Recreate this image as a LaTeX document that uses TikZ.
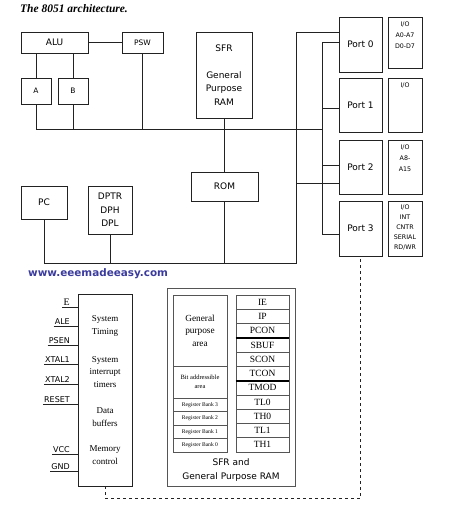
\documentclass[tikz,border=0pt]{standalone}
\usepackage{fontspec}
\setmainfont{Liberation Serif}
\setsansfont{DejaVu Sans}
\usepackage{xcolor}
\usetikzlibrary{positioning,calc}
\definecolor{wire}{HTML}{222222}
\definecolor{ramgray}{HTML}{555555}
\definecolor{webblue}{HTML}{3B3B9E}

\tikzset{
  blk/.style={draw=wire,line width=0.9pt,inner sep=0pt,align=center,
              font=\sffamily\fontsize{9}{13.3}\selectfont},
  smallblk/.style={blk,font=\sffamily\fontsize{7.5}{9}\selectfont},
  iobox/.style={draw=wire,line width=0.9pt,inner sep=0pt,minimum width=34pt},
  iotext/.style={anchor=north,inner sep=0pt,align=center,
                 font=\sffamily\fontsize{6.3}{10.8}\selectfont},
  pinlbl/.style={anchor=south east,inner sep=1pt,
                 font=\sffamily\fontsize{8}{9}\selectfont},
  chiptext/.style={align=center,inner sep=0pt,font=\fontsize{9}{12.3}\selectfont},
  rambox/.style={draw=ramgray,line width=0.6pt,inner sep=0pt,align=center},
  wires/.style={draw=wire,line width=0.9pt}
}

\begin{document}
\begin{tikzpicture}[x=1pt,y=-1pt]
\useasboundingbox (0,0) rectangle (474,505);

\node[anchor=west,inner sep=0pt,font=\bfseries\itshape\fontsize{11.5}{12}\selectfont]
      (title) at (20,9) {The 8051 architecture.};

% upper part: ALU, registers, memory
\node[blk,minimum width=67pt,minimum height=21pt] (alu) at (54.5,42.5) {ALU};
\node[smallblk,minimum width=41pt,minimum height=21pt] (psw) at (142.5,42.5) {PSW};
\node[smallblk,minimum width=30pt,minimum height=26pt] (a) at (36,91) {A};
\node[smallblk,minimum width=30pt,minimum height=26pt] (b) at (73,91) {B};
\node[blk,minimum width=56pt,minimum height=86pt] (sfr) at (224,75)
      {SFR\\[13.7pt]General\\Purpose\\RAM};
\node[blk,minimum width=67pt,minimum height=29pt] (rom) at (224.5,186.5) {ROM};
\node[blk,minimum width=46pt,minimum height=33pt] (pc) at (44,202.5) {PC};
\node[blk,minimum width=44pt,minimum height=48pt] (dptr) at (110,210) {DPTR\\DPH\\DPL};

% ports and their pins
\node[blk,minimum width=43pt,minimum height=55pt] (port0) at (360.5,44.5) {Port 0};
\node[blk,minimum width=43pt,minimum height=54pt] (port1) at (360.5,105) {Port 1};
\node[blk,minimum width=43pt,minimum height=54pt] (port2) at (360.5,167) {Port 2};
\node[blk,minimum width=43pt,minimum height=55pt] (port3) at (360.5,228.5) {Port 3};

\node[iobox,minimum height=51pt] (io0) at (405,42.5) {};
\node[iobox,minimum height=54pt] (io1) at (405,105) {};
\node[iobox,minimum height=54pt] (io2) at (405,167) {};
\node[iobox,minimum height=55pt] (io3) at (405,228.5) {};
\node[iotext] (io0txt) at ([yshift=-5pt]io0.north) {I/O\\A0-A7\\D0-D7};
\node[iotext] (io1txt) at ([yshift=-5pt]io1.north) {I/O};
\node[iotext] (io2txt) at ([yshift=-5pt]io2.north) {I/O\\A8-\\A15};
\node[iotext,font=\sffamily\fontsize{6.3}{9.8}\selectfont] (io3txt)
      at ([yshift=-4.5pt]io3.north) {I/O\\INT\\CNTR\\SERIAL\\RD/WR};

% buses
\coordinate (busR) at (322,129);
\coordinate (trkTop) at (322,42);
\coordinate (trkP1) at (322,108);
\coordinate (trkP2) at (322,165);
\coordinate (trkBot) at (322,234);
\coordinate (outTop) at (296,32);
\coordinate (outP2) at (296,183);
\coordinate (outBot) at (296,263);

\draw[wires] (alu.east) -- (psw.west);
\draw[wires] (alu.south -| a.north) -- (a.north);
\draw[wires] (alu.south -| b.north) -- (b.north);
\draw[wires] (a.south) |- (busR);
\draw[wires] (b.south) -- (b.south |- busR);
\draw[wires] (psw.south) -- (psw.south |- busR);
\draw[wires] (sfr.south) -- (sfr.south |- busR);
\draw[wires] (rom.north) -- (rom.north |- busR);

\draw[wires] (port0.west |- trkTop) -- (trkTop) -- (trkBot) -- (port3.west |- trkBot);
\draw[wires] (trkP1) -- (port1.west |- trkP1);
\draw[wires] (trkP2) -- (port2.west |- trkP2);
\draw[wires] (port0.west |- outTop) -- (outTop) -- (outBot) -| (pc.south);
\draw[wires] (outP2) -- (port2.west |- outP2);
\draw[wires] (dptr.south) -- (dptr.south |- outBot);
\draw[wires] (rom.south) -- (rom.south |- outBot);

\node[anchor=west,inner sep=0pt,text=webblue,
      font=\sffamily\bfseries\fontsize{10.4}{12}\selectfont]
      (web) at (28,274) {www.eeemadeeasy.com};

% lower part: the chip and its pins
\node[draw=wire,line width=0.9pt,minimum width=54pt,minimum height=192pt,inner sep=0pt]
      (mcu) at (105,390) {};
\node[chiptext] (timing) at (105,326) {System\\Timing};
\node[chiptext] (irq) at (105,372) {System\\interrupt\\timers};
\node[chiptext] (buffers) at (105,417) {Data\\buffers};
\node[chiptext] (memctl) at (105,455) {Memory\\control};

\foreach \lbl/\y [count=\i] in {{\rmfamily\fontsize{10}{10}\selectfont E}/307,ALE/326,PSEN/345,
                                 XTAL1/364,XTAL2/384,RESET/404,VCC/454,GND/471}{
  \node[pinlbl] (pin\i) at (71,\y) {\lbl};
  \draw[wires] (pin\i.south west) -- (pin\i.south west -| mcu.west);
}

\draw[wires,dashed] (mcu.south) -- ++(0,12) -| (port3.south);

% SFR and general purpose RAM map
\node[rambox,line width=0.9pt,minimum width=128pt,minimum height=198pt] (ram) at (231,387) {};
\node[rambox,minimum width=54pt,minimum height=71pt,font=\fontsize{9.3}{12.5}\selectfont]
      (gparea) at (200,330.5) {General\\purpose\\area};
\node[rambox,minimum width=54pt,minimum height=32pt,font=\fontsize{6.5}{8.7}\selectfont]
      (bitarea) at (200,382) {Bit addressible\\area};
\foreach \k in {3,2,1,0}{
  \node[rambox,minimum width=54pt,minimum height=13.5pt,font=\fontsize{5.6}{6}\selectfont]
        (bank\k) at (200,{398+(3-\k)*13.5+6.75}) {Register Bank \k};
}
\foreach \r/\name in {0/IE,1/IP,2/PCON,3/SBUF,4/SCON,5/TCON,6/TMOD,7/TL0,8/TH0,9/TL1,10/TH1}{
  \node[rambox,minimum width=53pt,minimum height=14.27pt,font=\fontsize{9.5}{10}\selectfont]
        (reg\r) at (262.5,{295+\r*14.27+7.135}) {\name};
}
\draw[line width=1.4pt] (reg2.south west) -- (reg2.south east);
\draw[line width=1.4pt] (reg5.south west) -- (reg5.south east);
\node[align=center,inner sep=0pt,font=\sffamily\fontsize{9}{14}\selectfont]
      (ramcap) at (231,470) {SFR and\\General Purpose RAM};

\end{tikzpicture}
\end{document}
